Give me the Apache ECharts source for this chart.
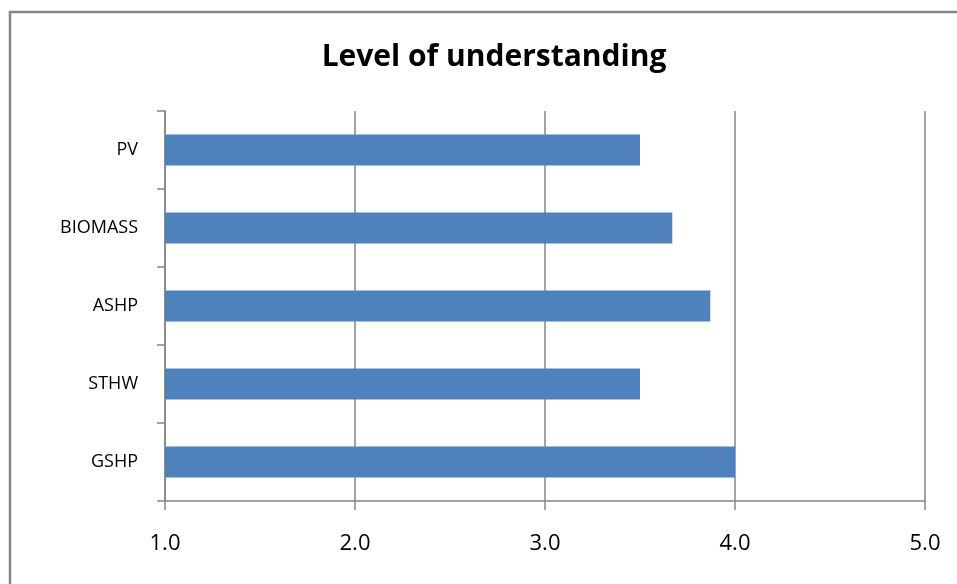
<html>
<head>
    <meta http-equiv="Content-Type" content="text/html; charset=utf-8">
    <script type="text/javascript" src="https://cdn.jsdelivr.net/npm/echarts@6/dist/echarts.min.js"></script>
    <style>
        html, body { margin: 0; padding: 0; background: #fff; }
        #main { width: 957px; height: 584px; }
    </style>
</head>
<body>
<div id="main"></div>
<script type="text/javascript">
    var categories = ['PV', 'BIOMASS', 'ASHP', 'STHW', 'GSHP'];
    var understanding = [3.5, 3.67, 3.87, 3.5, 4.0];
    var xTicks = [1, 2, 3, 4, 5];

    var axisGrey = '#868686';
    var fontName = '"Open Sans", "DejaVu Sans", sans-serif';

    var myChart = echarts.init(document.getElementById('main'));
    var option = {
        animation: false,
        title: {
            text: 'Level of understanding',
            left: 489,
            textAlign: 'center',
            top: 37,
            textStyle: {
                fontFamily: fontName,
                fontWeight: 'bold',
                fontSize: 30,
                color: '#000'
            }
        },
        graphic: [{
            type: 'rect',
            shape: { x: 10, y: 12, width: 1000, height: 1000 },
            style: { fill: 'none', stroke: axisGrey, lineWidth: 2.5 },
            silent: true
        }],
        grid: { left: 165, right: 32, top: 111, bottom: 83 },
        xAxis: {
            type: 'value',
            min: xTicks[0],
            max: xTicks[xTicks.length - 1],
            interval: 1,
            axisLine: { show: true, lineStyle: { color: axisGrey, width: 1.5 } },
            axisTick: { show: true, length: 9, lineStyle: { color: axisGrey, width: 1.5 } },
            splitLine: { show: true, lineStyle: { color: axisGrey, width: 1.5 } },
            axisLabel: {
                margin: 32,
                fontFamily: fontName,
                fontSize: 22,
                color: '#000',
                formatter: function (v) { return v.toFixed(1); }
            }
        },
        yAxis: {
            type: 'category',
            data: categories,
            inverse: true,
            axisLine: { show: true, lineStyle: { color: axisGrey, width: 1.5 } },
            axisTick: { show: true, length: 8, lineStyle: { color: axisGrey, width: 1.5 } },
            axisLabel: {
                margin: 27,
                fontFamily: fontName,
                fontSize: 18,
                color: '#000'
            }
        },
        series: [{
            type: 'bar',
            data: understanding,
            barWidth: 31,
            itemStyle: { color: '#4F81BD' }
        }]
    };
    myChart.setOption(option);
</script>
</body>
</html>
